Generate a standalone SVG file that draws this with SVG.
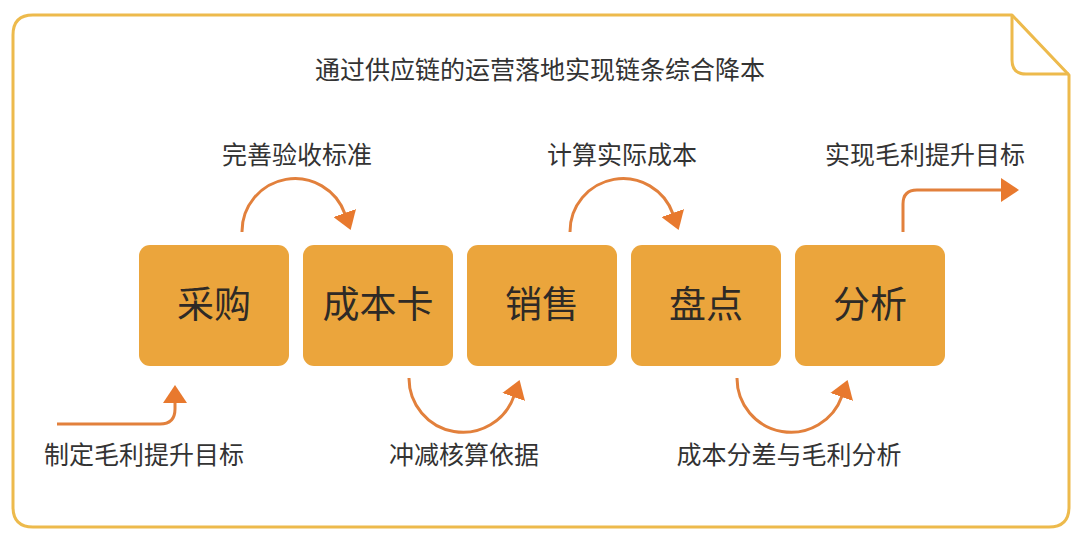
<svg xmlns="http://www.w3.org/2000/svg" width="1080" height="542" viewBox="0 0 1080 542">
<style>
.frame{fill:none;stroke:#EDBA4C;stroke-width:3;stroke-linejoin:round}
.box{fill:#EBA53C}
.bt{font-family:"Noto Sans CJK SC","Noto Sans",sans-serif;font-size:37px;fill:#2E2A26;text-anchor:middle}
.lb{font-family:"Noto Sans CJK SC","Noto Sans",sans-serif;font-size:25px;fill:#333333;text-anchor:middle}
.ar{fill:none;stroke:#E2803C;stroke-width:3;marker-end:url(#ah)}
</style>
<defs>
<marker id="ah" viewBox="0 0 18 24" markerWidth="18" markerHeight="24" refX="1" refY="12" orient="auto" markerUnits="userSpaceOnUse">
<path d="M0,0 L18,12 L0,24 Z" fill="#E8792E"/>
</marker>
</defs>
<rect width="1080" height="542" fill="#FFFFFF"/>
<g id="frame">
<path class="frame" d="M33,15 H1012 L1069,75 V507 Q1069,527 1049,527 H33 Q13,527 13,507 V35 Q13,15 33,15 Z"/>
<path class="frame" d="M1012,15 V60 Q1012,74 1026,74 H1069"/>
</g>
<text id="title" class="lb" x="540" y="79">通过供应链的运营落地实现链条综合降本</text>
<g id="node-caigou"><rect class="box" x="139" y="245" width="150" height="121" rx="11"/><text class="bt" x="214" y="318">采购</text></g>
<g id="node-chengbenka"><rect class="box" x="303" y="245" width="150" height="121" rx="11"/><text class="bt" x="378" y="318">成本卡</text></g>
<g id="node-xiaoshou"><rect class="box" x="467" y="245" width="150" height="121" rx="11"/><text class="bt" x="542" y="318">销售</text></g>
<g id="node-pandian"><rect class="box" x="631" y="245" width="150" height="121" rx="11"/><text class="bt" x="706" y="318">盘点</text></g>
<g id="node-fenxi"><rect class="box" x="795" y="245" width="150" height="121" rx="11"/><text class="bt" x="870" y="318">分析</text></g>
<g id="connectors">
<path class="ar" d="M57,424 H160 Q175,424 175,409 V402"/>
<path class="ar" d="M242,232 A53,53 0 0 1 345,214"/>
<path class="ar" d="M409,378 A54,54 0 0 0 514,396"/>
<path class="ar" d="M570,232 A53,53 0 0 1 673,214"/>
<path class="ar" d="M737,378 A54,54 0 0 0 842,396"/>
<path class="ar" d="M903,232 V204 Q903,190 917,190 H1002"/>
</g>
<g id="labels">
<text class="lb" x="297" y="164">完善验收标准</text>
<text class="lb" x="622" y="164">计算实际成本</text>
<text class="lb" x="925" y="164">实现毛利提升目标</text>
<text class="lb" x="144" y="464">制定毛利提升目标</text>
<text class="lb" x="464" y="464">冲减核算依据</text>
<text class="lb" x="789" y="464">成本分差与毛利分析</text>
</g>
</svg>
